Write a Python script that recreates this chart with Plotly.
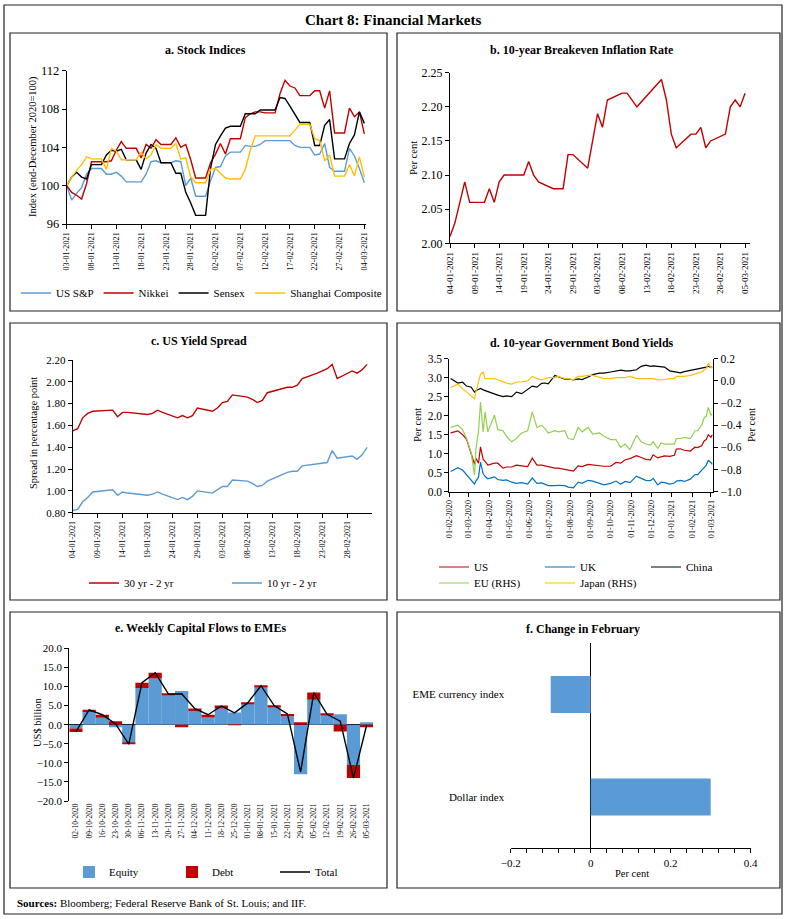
import plotly.graph_objects as go
import pandas as pd

W, H = 786, 919
def fx(p): return p / W
def fy(p): return 1 - p / H

FONT = "Liberation Serif"
BLUE = "#5B9BD5"; RED = "#C00000"; YEL = "#FFC000"; GRN = "#92D050"; DBLUE = "#0070C0"

# ---------------- a. Stock Indices ----------------
stock_dates = pd.date_range("2021-01-03", "2021-03-04").strftime("%Y-%m-%d").tolist()
us_sp = [100.0, 98.5, 99.2, 99.8, 101.2, 101.8, 101.8, 101.8, 101.2, 101.2, 101.4, 101.0, 100.4, 100.4, 100.4,
         100.4, 101.2, 102.5, 102.6, 102.4, 102.4, 102.4, 102.6, 102.5, 100.0, 100.8, 98.9, 98.9, 98.9, 100.5,
         101.9, 102.0, 103.1, 103.5, 103.5, 103.5, 104.2, 104.1, 104.1, 104.3, 104.7, 104.7, 104.7, 104.7, 104.7,
         104.7, 104.2, 104.0, 104.0, 104.0, 103.2, 103.3, 104.4, 101.9, 101.5, 101.5, 101.5, 103.9, 103.1, 101.8, 100.3]
nikkei = [100.0, 99.3, 99.0, 98.6, 100.2, 102.5, 102.5, 102.5, 102.5, 102.6, 103.7, 104.6, 103.9, 103.9, 103.9,
          102.9, 104.3, 103.9, 104.8, 104.3, 104.3, 104.3, 105.0, 104.0, 104.3, 102.7, 100.8, 100.8, 100.8, 102.4,
          103.3, 104.4, 103.3, 104.9, 104.9, 104.9, 107.1, 107.5, 107.7, 107.7, 107.6, 107.6, 107.6, 109.6, 111.0,
          110.4, 110.2, 109.4, 109.4, 109.4, 109.9, 109.9, 108.1, 109.9, 105.5, 105.5, 105.5, 108.1, 107.2, 107.7, 105.4]
sensex = [100.0, 100.9, 101.4, 100.9, 100.7, 102.2, 102.2, 102.2, 103.2, 103.7, 103.6, 103.8, 102.7, 102.7, 102.7,
          101.7, 103.4, 104.3, 103.9, 102.4, 102.4, 102.4, 101.3, 101.3, 99.3, 98.2, 96.9, 96.9, 96.9, 101.8,
          104.3, 105.2, 106.0, 106.2, 106.2, 106.2, 107.5, 107.5, 107.5, 107.9, 107.9, 107.9, 107.9, 109.2, 109.1,
          108.3, 107.5, 106.6, 106.6, 106.6, 104.2, 104.2, 106.3, 106.9, 102.8, 102.8, 102.8, 104.4, 105.3, 107.7, 106.5]
shanghai = [100.0, 100.9, 101.6, 102.2, 103.0, 102.8, 102.8, 102.8, 101.7, 103.9, 103.6, 102.7, 102.7, 102.7, 102.7,
            103.5, 102.8, 103.2, 104.3, 103.9, 103.9, 103.9, 104.4, 102.8, 102.9, 100.9, 100.3, 100.3, 100.3, 101.7,
            101.8, 101.3, 100.8, 100.7, 100.7, 100.7, 101.7, 103.7, 105.2, 105.2, 105.2, 105.2, 105.2, 105.2, 105.2,
            105.2, 105.8, 106.4, 106.4, 106.4, 104.9, 104.7, 102.6, 103.2, 101.0, 101.0, 101.0, 102.2, 101.0, 103.0, 100.9]

# ---------------- b. Breakeven inflation ----------------
bei_dates = ["2021-01-04", "2021-01-05", "2021-01-07", "2021-01-08", "2021-01-11", "2021-01-12", "2021-01-13",
             "2021-01-14", "2021-01-15", "2021-01-19", "2021-01-20", "2021-01-21", "2021-01-22", "2021-01-25",
             "2021-01-27", "2021-01-28", "2021-01-29", "2021-02-01", "2021-02-03", "2021-02-04", "2021-02-05",
             "2021-02-08", "2021-02-09", "2021-02-11", "2021-02-16", "2021-02-17", "2021-02-18", "2021-02-19",
             "2021-02-22", "2021-02-23", "2021-02-24", "2021-02-25", "2021-02-26", "2021-03-01", "2021-03-02",
             "2021-03-03", "2021-03-04", "2021-03-05"]
bei = [2.01, 2.03, 2.09, 2.06, 2.06, 2.08, 2.06, 2.09, 2.10, 2.10, 2.12, 2.10, 2.09, 2.08, 2.08, 2.13, 2.13,
       2.11, 2.19, 2.17, 2.21, 2.22, 2.22, 2.20, 2.24, 2.21, 2.16, 2.14, 2.16, 2.16, 2.17, 2.14, 2.15, 2.16,
       2.20, 2.21, 2.20, 2.22]

# ---------------- c. US yield spread ----------------
spread_dates = ["2021-01-04", "2021-01-05", "2021-01-06", "2021-01-07", "2021-01-08", "2021-01-11", "2021-01-12",
                "2021-01-13", "2021-01-14", "2021-01-15", "2021-01-19", "2021-01-20", "2021-01-21", "2021-01-22",
                "2021-01-25", "2021-01-26", "2021-01-27", "2021-01-28", "2021-01-29", "2021-02-01", "2021-02-02",
                "2021-02-03", "2021-02-04", "2021-02-05", "2021-02-08", "2021-02-09", "2021-02-10", "2021-02-11",
                "2021-02-12", "2021-02-16", "2021-02-17", "2021-02-18", "2021-02-19", "2021-02-22", "2021-02-23",
                "2021-02-24", "2021-02-25", "2021-02-26", "2021-03-01", "2021-03-02", "2021-03-03", "2021-03-04"]
spread_30_2 = [1.55, 1.57, 1.67, 1.71, 1.73, 1.74, 1.74, 1.68, 1.72, 1.72, 1.70, 1.71, 1.74, 1.72, 1.67, 1.69,
               1.67, 1.69, 1.76, 1.73, 1.76, 1.81, 1.82, 1.88, 1.86, 1.84, 1.81, 1.83, 1.90, 1.95, 1.95, 1.97,
               2.03, 2.08, 2.10, 2.12, 2.16, 2.03, 2.10, 2.08, 2.11, 2.16]
spread_10_2 = [0.82, 0.83, 0.90, 0.94, 0.99, 1.01, 1.01, 0.96, 0.99, 0.98, 0.96, 0.97, 0.99, 0.97, 0.92, 0.94,
               0.92, 0.95, 1.00, 0.98, 1.01, 1.04, 1.04, 1.10, 1.09, 1.07, 1.04, 1.05, 1.09, 1.17, 1.18, 1.18,
               1.23, 1.25, 1.26, 1.26, 1.37, 1.30, 1.32, 1.29, 1.33, 1.40]

# ---------------- d. 10-year government bond yields ----------------
bond_dates = ["2020-02-03", "2020-02-14", "2020-02-21", "2020-02-27", "2020-03-05", "2020-03-10", "2020-03-12",
              "2020-03-16", "2020-03-19", "2020-03-23", "2020-03-26", "2020-03-30", "2020-04-09", "2020-04-14",
              "2020-04-22", "2020-04-27", "2020-05-05", "2020-05-12", "2020-05-20", "2020-05-29", "2020-06-05",
              "2020-06-12", "2020-06-19", "2020-06-24", "2020-06-29", "2020-07-09", "2020-07-14", "2020-07-24",
              "2020-07-29", "2020-08-06", "2020-08-13", "2020-08-19", "2020-08-28", "2020-09-04", "2020-09-14",
              "2020-09-21", "2020-10-01", "2020-10-09", "2020-10-16", "2020-10-23", "2020-10-30", "2020-11-09",
              "2020-11-16", "2020-11-23", "2020-11-30", "2020-12-04", "2020-12-11", "2020-12-16", "2020-12-21",
              "2020-12-29", "2021-01-05", "2021-01-08", "2021-01-14", "2021-01-20", "2021-01-29", "2021-02-05",
              "2021-02-09", "2021-02-15", "2021-02-19", "2021-02-22", "2021-02-25", "2021-03-01", "2021-03-03"]
us_10y = [1.55, 1.60, 1.50, 1.38, 1.00, 0.72, 0.88, 0.75, 1.18, 0.85, 0.80, 0.70, 0.75, 0.75, 0.62, 0.65,
          0.65, 0.70, 0.68, 0.66, 0.88, 0.70, 0.70, 0.68, 0.64, 0.62, 0.62, 0.59, 0.58, 0.54, 0.68, 0.66,
          0.72, 0.70, 0.67, 0.67, 0.67, 0.77, 0.75, 0.84, 0.87, 0.95, 0.90, 0.85, 0.84, 0.97, 0.89, 0.92,
          0.94, 0.93, 0.96, 1.12, 1.13, 1.09, 1.07, 1.17, 1.16, 1.21, 1.34, 1.37, 1.50, 1.43, 1.50]
uk_10y = [0.53, 0.63, 0.57, 0.45, 0.30, 0.20, 0.28, 0.38, 0.78, 0.47, 0.40, 0.34, 0.39, 0.32, 0.30, 0.31,
          0.25, 0.22, 0.24, 0.20, 0.36, 0.22, 0.23, 0.20, 0.16, 0.16, 0.17, 0.16, 0.12, 0.10, 0.25, 0.22,
          0.30, 0.28, 0.22, 0.18, 0.22, 0.28, 0.20, 0.27, 0.24, 0.41, 0.35, 0.30, 0.29, 0.35, 0.18, 0.25,
          0.24, 0.20, 0.23, 0.28, 0.30, 0.27, 0.33, 0.45, 0.45, 0.56, 0.65, 0.70, 0.82, 0.77, 0.72]
china_10y = [2.98, 2.86, 2.88, 2.78, 2.75, 2.62, 2.66, 2.70, 2.72, 2.68, 2.66, 2.62, 2.56, 2.54, 2.50, 2.52,
             2.50, 2.62, 2.58, 2.70, 2.78, 2.75, 2.85, 2.86, 2.84, 3.06, 3.02, 2.96, 2.97, 2.94, 2.97, 2.95,
             3.02, 3.08, 3.12, 3.12, 3.15, 3.17, 3.20, 3.18, 3.18, 3.21, 3.30, 3.33, 3.30, 3.31, 3.30, 3.30,
             3.28, 3.18, 3.15, 3.15, 3.13, 3.16, 3.19, 3.21, 3.22, 3.25, 3.26, 3.28, 3.30, 3.27, 3.28]
eu_10y = [-0.42, -0.40, -0.44, -0.52, -0.65, -0.85, -0.62, -0.45, -0.19, -0.46, -0.28, -0.46, -0.31, -0.44,
          -0.45, -0.50, -0.55, -0.52, -0.47, -0.45, -0.28, -0.42, -0.40, -0.43, -0.47, -0.45, -0.46, -0.45,
          -0.52, -0.53, -0.42, -0.46, -0.42, -0.48, -0.47, -0.50, -0.53, -0.53, -0.60, -0.57, -0.62, -0.49,
          -0.55, -0.57, -0.58, -0.55, -0.61, -0.56, -0.57, -0.57, -0.57, -0.52, -0.52, -0.51, -0.52, -0.45,
          -0.45, -0.40, -0.33, -0.32, -0.24, -0.31, -0.30]
japan_10y = [-0.06, -0.03, -0.07, -0.10, -0.13, -0.16, -0.10, -0.02, 0.06, 0.08, 0.02, 0.02, 0.02, 0.01,
             -0.01, -0.02, -0.03, -0.01, -0.01, 0.00, 0.04, 0.02, 0.01, 0.02, 0.03, 0.03, 0.04, 0.02, 0.02,
             0.01, 0.04, 0.04, 0.05, 0.05, 0.03, 0.02, 0.02, 0.03, 0.03, 0.03, 0.04, 0.02, 0.02, 0.02, 0.02,
             0.02, 0.01, 0.01, 0.01, 0.02, 0.02, 0.04, 0.04, 0.04, 0.05, 0.06, 0.07, 0.08, 0.10, 0.11, 0.16,
             0.12, 0.12]

# ---------------- e. Weekly capital flows ----------------
weeks = ["02-10-2020", "09-10-2020", "16-10-2020", "23-10-2020", "30-10-2020", "06-11-2020", "13-11-2020",
         "20-11-2020", "27-11-2020", "04-12-2020", "11-12-2020", "18-12-2020", "25-12-2020", "01-01-2021",
         "08-01-2021", "15-01-2021", "22-01-2021", "29-01-2021", "05-02-2021", "12-02-2021", "19-02-2021",
         "26-02-2021", "05-03-2021"]
equity = [-1.0, 3.3, 1.8, -0.7, -4.7, 9.6, 12.1, 7.8, 8.8, 3.5, 1.9, 4.2, 3.2, 5.5, 10.0, 4.8, 2.2, -13.0,
          6.5, 2.5, 2.7, -10.6, 0.6]
debt = [-0.9, 0.6, 0.8, 0.9, -0.4, 1.4, 1.5, 0.2, -0.7, 0.7, 0.7, 0.8, -0.1, 0.3, 0.3, 0.3, 0.6, 0.6, 1.9,
        0.3, -1.8, -3.4, -0.7]
total = [-1.9, 3.9, 2.6, 0.2, -5.1, 11.0, 13.6, 8.0, 8.1, 4.2, 2.6, 4.9, 3.1, 5.7, 10.2, 5.0, 2.8, -12.4,
         8.4, 2.7, 0.9, -14.0, -0.1]

# ---------------- f. Change in February ----------------
fx_names = ["EME currency index", "Dollar index"]
fx_change = [-0.1, 0.3]

fig = go.Figure()
LW = 1.4

def line(x, y, name, color, xa, ya, legend, width=LW):
    fig.add_trace(go.Scatter(x=x, y=y, name=name, mode="lines", line=dict(color=color, width=width),
                             xaxis=xa, yaxis=ya, legend=legend))

line(stock_dates, us_sp, "US S&P", BLUE, "x", "y", "legend")
line(stock_dates, nikkei, "Nikkei", RED, "x", "y", "legend")
line(stock_dates, sensex, "Sensex", "#000000", "x", "y", "legend")
line(stock_dates, shanghai, "Shanghai Composite", YEL, "x", "y", "legend")

fig.add_trace(go.Scatter(x=bei_dates, y=bei, mode="lines", line=dict(color=RED, width=LW),
                         xaxis="x2", yaxis="y2", showlegend=False))

line(spread_dates, spread_30_2, "30 yr - 2 yr", RED, "x3", "y3", "legend2")
line(spread_dates, spread_10_2, "10 yr - 2 yr", BLUE, "x3", "y3", "legend2")

line(bond_dates, us_10y, "US", RED, "x4", "y4", "legend3", 1.2)
line(bond_dates, uk_10y, "UK", DBLUE, "x4", "y4", "legend3", 1.2)
line(bond_dates, china_10y, "China", "#000000", "x4", "y4", "legend3", 1.2)
line(bond_dates, eu_10y, "EU (RHS)", GRN, "x4", "y5", "legend4", 1.2)
line(bond_dates, japan_10y, "Japan (RHS)", YEL, "x4", "y5", "legend4", 1.2)

fig.add_trace(go.Bar(x=weeks, y=equity, name="Equity", marker=dict(color=BLUE, line=dict(width=0)),
                     width=1.0, xaxis="x5", yaxis="y6", legend="legend5"))
fig.add_trace(go.Bar(x=weeks, y=debt, name="Debt", marker=dict(color=RED, line=dict(width=0)),
                     width=1.0, xaxis="x5", yaxis="y6", legend="legend5"))
fig.add_trace(go.Scatter(x=weeks, y=total, name="Total", mode="lines", line=dict(color="#000000", width=1.4),
                         xaxis="x5", yaxis="y6", legend="legend5"))

fig.add_trace(go.Bar(x=fx_change, y=fx_names, orientation="h", marker=dict(color=BLUE, line=dict(width=0)),
                     width=0.36, xaxis="x6", yaxis="y7", showlegend=False))

def tf(size): return dict(family=FONT, size=size, color="#000")
common = dict(showgrid=False, zeroline=False, showline=True, linecolor="#000", linewidth=1,
              ticks="outside", ticklen=4, tickcolor="#000", tickwidth=1)

DAY = 86400000
fig.update_layout(
    width=W, height=H, margin=dict(l=0, r=0, t=0, b=0, autoexpand=False),
    paper_bgcolor="white", plot_bgcolor="white", barmode="relative",
    font=dict(family=FONT, color="#000"),
    xaxis=dict(domain=[fx(66.7), fx(366)], anchor="y", type="date",
               range=["2021-01-03", "2021-03-04 08:00"], tick0="2021-01-03", dtick=5 * DAY,
               tickformat="%d-%m-%Y", tickangle=-90, tickfont=tf(8.2), **common),
    yaxis=dict(domain=[fy(224), fy(70.7)], anchor="x", range=[96, 112], dtick=4, tickfont=tf(12.5), **common),
    xaxis2=dict(domain=[fx(450), fx(750)], anchor="y2", type="date",
                range=["2021-01-04", "2021-03-06"], tick0="2021-01-04", dtick=5 * DAY,
                tickformat="%d-%m-%Y", tickangle=-90, tickfont=tf(9), **common),
    yaxis2=dict(domain=[fy(243.3), fy(72.7)], anchor="x2", range=[2.0, 2.25], dtick=0.05,
                tickformat=".2f", tickfont=tf(12), **common),
    xaxis3=dict(domain=[fx(72.7), fx(371.7)], anchor="y3", type="date",
                range=["2021-01-04", "2021-03-04 22:00"], tick0="2021-01-04", dtick=5 * DAY,
                tickformat="%d-%m-%Y", tickangle=-90, tickfont=tf(8), **common),
    yaxis3=dict(domain=[fy(512.7), fy(360)], anchor="x3", range=[0.8, 2.2], dtick=0.2,
                tickformat=".2f", tickfont=tf(11), **common),
    xaxis4=dict(domain=[fx(449.3), fx(713.3)], anchor="y4", type="date",
                range=["2020-02-01", "2021-03-04 14:00"], tick0="2020-02-01", dtick="M1",
                tickformat="%d-%m-%Y", tickangle=-90, tickfont=tf(8.2), **common),
    yaxis4=dict(domain=[fy(491.7), fy(358.7)], anchor="x4", range=[0, 3.5], dtick=0.5,
                tickformat=".1f", tickfont=tf(11.5), **common),
    yaxis5=dict(overlaying="y4", anchor="x4", side="right", range=[-1.0, 0.2], dtick=0.2,
                tickformat=".1f", tickfont=tf(11.5), **common),
    xaxis5=dict(domain=[fx(69.3), fx(373.3)], anchor="y6", type="category", tickangle=-90,
                tickfont=tf(7.5), showgrid=False, zeroline=False, showline=False, ticks=""),
    yaxis6=dict(domain=[fy(801), fy(648.3)], anchor="x5", range=[-20, 20], dtick=5, tickformat=".1f",
                tickfont=tf(11), showgrid=False, zeroline=True, zerolinecolor="#000", zerolinewidth=1,
                showline=True, linecolor="#000", linewidth=1, ticks="outside", ticklen=4, tickcolor="#000"),
    xaxis6=dict(domain=[fx(510.7), fx(750.7)], anchor="y7", range=[-0.2, 0.4], tickvals=[-0.2, 0, 0.2, 0.4],
                tickfont=tf(11), showgrid=False, zeroline=True, zerolinecolor="#000", zerolinewidth=1,
                showline=True, linecolor="#000", linewidth=1, ticks="outside", ticklen=4, tickcolor="#000",
                minor=dict(dtick=0.04, ticks="outside", ticklen=4, tickcolor="#000", showgrid=False)),
    yaxis7=dict(domain=[fy(848.3), fy(643.3)], anchor="x6", type="category", autorange="reversed",
                tickfont=tf(11), showgrid=False, zeroline=False, showline=False, ticks="", ticksuffix="  "),
    yaxis8=dict(overlaying="y7", anchor="free", position=fx(590.7), type="category",
                categoryorder="array", categoryarray=fx_names, range=[1.5, -0.5],
                tickson="boundaries", ticks="outside", ticklen=4, tickcolor="#000",
                showticklabels=False, showline=False, showgrid=False, zeroline=False),
)

legfont = dict(family=FONT, size=11, color="#000")
def leg(x, y, ew=None):
    d = dict(x=fx(x), y=fy(y), xanchor="left", yanchor="middle", orientation="h", font=legfont,
             bgcolor="rgba(0,0,0,0)", itemwidth=30, traceorder="normal")
    if ew:
        d.update(entrywidth=ew, entrywidthmode="pixels")
    return d
fig.update_layout(
    legend=leg(16, 293),
    legend2=leg(84, 583, 98),
    legend3=leg(434, 567, 61),
    legend4=leg(434, 583, 61),
    legend5=leg(69, 872, 58),
)

def ann(text, x, y, size=11, bold=False, angle=0, xanchor="center"):
    fig.add_annotation(text=f"<b>{text}</b>" if bold else text, x=fx(x), y=fy(y), xref="paper", yref="paper",
                       showarrow=False, textangle=angle, xanchor=xanchor, yanchor="middle",
                       font=dict(family=FONT, size=size, color="#000"))

ann("Chart 8: Financial Markets", 393, 20, 15, True)
ann("a. Stock Indices", 205, 50, 12, True)
ann("b. 10-year Breakeven Inflation Rate", 582, 50, 12, True)
ann("c. US Yield Spread", 199, 341, 12, True)
ann("d. 10-year Government Bond Yields", 582, 343, 12, True)
ann("e. Weekly Capital Flows to EMEs", 200, 628, 12, True)
ann("f. Change in February", 583, 629, 12, True)
ann("Index (end-December 2020=100)", 33, 147, 10.5, angle=-90)
ann("Per cent", 413, 158, 10.5, angle=-90)
ann("Spread in percentage point", 33, 433, 10.5, angle=-90)
ann("Per cent", 417, 425, 10.5, angle=-90)
ann("Per cent", 751, 425, 10.5, angle=-90)
ann("US$ billion", 37, 723, 10.5, angle=-90)
ann("Per cent", 632, 873, 10.5)
ann("<b>Sources:</b> Bloomberg; Federal Reserve Bank of St. Louis; and IIF.", 15, 903, 11, xanchor="left")

def box(x0, y0, x1, y1):
    fig.add_shape(type="rect", xref="paper", yref="paper", x0=fx(x0), x1=fx(x1), y0=fy(y1), y1=fy(y0),
                  line=dict(color="#222", width=1.2), fillcolor="rgba(0,0,0,0)", layer="above")

box(4, 5, 782, 914)
box(10, 33, 387, 311); box(397, 33, 780, 311)
box(10, 323, 387, 600); box(397, 323, 780, 600)
box(10, 612, 387, 888); box(397, 612, 780, 888)

fig.write_html("out.html", config={"displayModeBar": False},
               post_script="document.body.style.margin='0px';document.body.style.overflow='hidden';")
